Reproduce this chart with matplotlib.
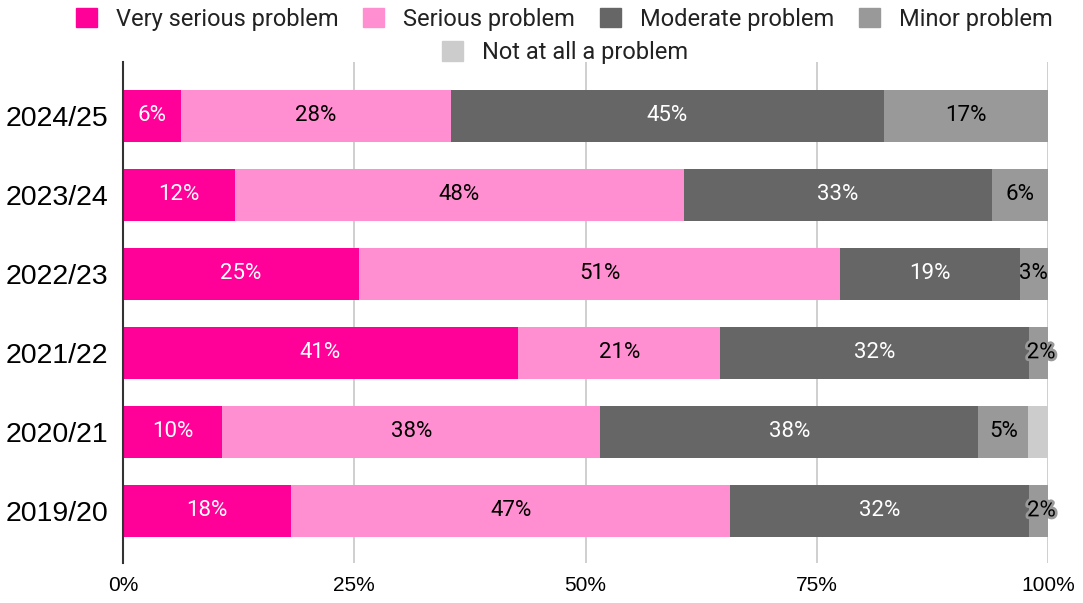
import matplotlib.pyplot as plt
import matplotlib.patheffects as pe
from matplotlib.patches import Patch
import numpy as np

years = ["2019/20", "2020/21", "2021/22", "2022/23", "2023/24", "2024/25"]
series = ["Very serious problem", "Serious problem", "Moderate problem",
          "Minor problem", "Not at all a problem"]
very_serious = [18, 10, 41, 25, 12, 6]
serious = [47, 38, 21, 51, 48, 28]
moderate = [32, 38, 32, 19, 33, 45]
minor = [2, 5, 2, 3, 6, 17]
not_at_all = [0, 2, 0, 0, 0, 0]
x_ticks = [0, 25, 50, 75, 100]

colors = ["#FF0099", "#FF8FD0", "#666666", "#999999", "#CCCCCC"]
text_colors = ["white", "black", "white", "black", "black"]

data = np.array([very_serious, serious, moderate, minor, not_at_all], dtype=float)
share = data / data.sum(axis=0) * 100

fig = plt.figure(figsize=(10.83, 6.03), dpi=100)
ax = fig.add_axes([0.1136, 0.0663, 0.9677 - 0.1136, 0.8972 - 0.0663])

y = np.arange(len(years))
left = np.zeros(len(years))
for i, name in enumerate(series):
    ax.barh(y, share[i], left=left, height=0.66, color=colors[i], zorder=2)
    for j in range(len(years)):
        v = data[i, j]
        if v >= 2 and i != 4:
            cx = left[j] + share[i, j] / 2
            t = ax.text(cx, y[j], f"{int(v)}%", ha="center", va="center",
                        color=text_colors[i], fontsize=16, family="Roboto", zorder=3)
            if share[i, j] < 2.5:
                t.set_position((left[j] + share[i, j] / 2 + 0.3, y[j]))
                t.set_path_effects([pe.withStroke(linewidth=4, foreground=colors[i])])
    left += share[i]

ax.set_xlim(0, 100)
ax.set_ylim(-0.66, 5.68)
ax.set_xticks(x_ticks)
ax.set_xticklabels([f"{t}%" for t in x_ticks], family="Liberation Sans", fontsize=15)
ax.set_yticks(y)
ax.set_yticklabels(years, family="Liberation Sans", fontsize=20.5)
ax.tick_params(length=0)
ax.tick_params(axis="y", pad=10.5)
ax.tick_params(axis="x", pad=9)
ax.grid(axis="x", color="#CCCCCC", linewidth=1.3, zorder=0)
ax.set_axisbelow(True)
for s in ["top", "right", "bottom"]:
    ax.spines[s].set_visible(False)
ax.spines["left"].set_color("#333333")
ax.spines["left"].set_linewidth(1.5)
ax.spines["left"].set_zorder(4)

handles = [Patch(facecolor=c, edgecolor=c) for c in colors]
leg_kw = dict(frameon=False, handlelength=0.9, handleheight=0.9, handletextpad=0.8,
              columnspacing=1.05, prop={"family": "Roboto", "size": 17},
              labelcolor="#222222", borderpad=0, borderaxespad=0)
fig.legend(handles[:4], series[:4], loc="center", bbox_to_anchor=(0.521, 0.968),
           ncol=4, **leg_kw)
fig.legend(handles[4:], series[4:], loc="center", bbox_to_anchor=(0.522, 0.913),
           ncol=1, **leg_kw)

fig.savefig("out.png", dpi=100)
